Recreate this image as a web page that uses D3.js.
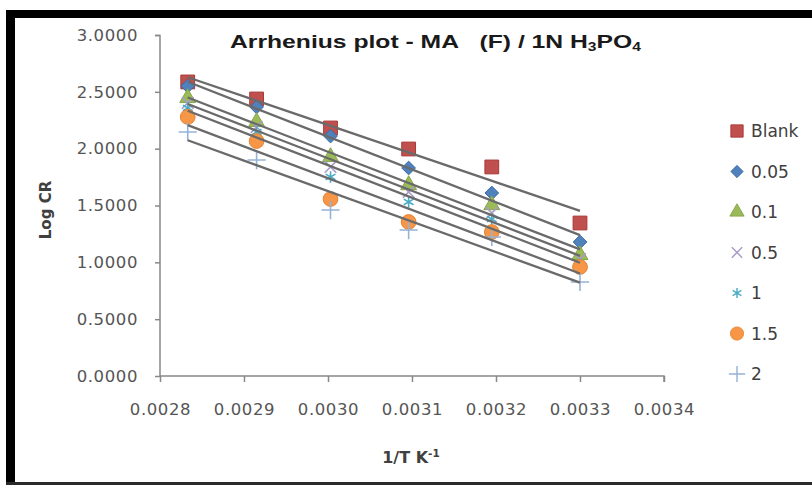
<!DOCTYPE html>
<html><head><meta charset="utf-8">
<script src="https://cdn.jsdelivr.net/npm/d3@7"></script>
<style>html,body{margin:0;padding:0;background:#fff;}svg{display:block;}</style>
</head><body>
<svg id="c" width="812" height="485"></svg>
<script>
// Data
const invT = [0.002833, 0.002915, 0.003003, 0.003096, 0.003195, 0.003300];
const seriesNames = ["Blank", "0.05", "0.1", "0.5", "1", "1.5", "2"];
const blank = [2.587, 2.437, 2.182, 1.997, 1.839, 1.346];
const c005  = [2.551, 2.367, 2.111, 1.830, 1.610, 1.179];
const c01   = [2.446, 2.235, 1.927, 1.680, 1.504, 1.065];
const c05   = [2.402, 2.191, 1.839, 1.619, 1.434, 1.029];
const c1    = [2.358, 2.147, 1.751, 1.531, 1.381, 0.985];
const c15   = [2.279, 2.067, 1.557, 1.355, 1.267, 0.959];
const c2    = [2.147, 1.900, 1.460, 1.284, 1.223, 0.827];
const xTicks = [0.0028, 0.0029, 0.0030, 0.0031, 0.0032, 0.0033, 0.0034];
const yTicks = [0, 0.5, 1.0, 1.5, 2.0, 2.5, 3.0];

const allSeries = [blank, c005, c01, c05, c1, c15, c2];
const styles = [
  {sym: d3.symbolSquare, size: 190, fill: "#C0504D", stroke: "#A83A37"},
  {sym: d3.symbolDiamond2, size: 120, fill: "#4F81BD", stroke: "#3C6AA0"},
  {sym: d3.symbolTriangle, size: 110, fill: "#9BBB59", stroke: "#86A548"},
  {sym: d3.symbolTimes, size: 90, fill: "none", stroke: "#A99BC6", sw: 1.6},
  {sym: d3.symbolAsterisk, size: 90, fill: "none", stroke: "#4BACC6", sw: 1.6},
  {sym: d3.symbolCircle, size: 170, fill: "#F79646", stroke: "#E5832F"},
  {sym: d3.symbolPlus, size: 110, fill: "none", stroke: "#95B3D7", sw: 1.6}
];

const svg = d3.select("#c");

// frame
svg.append("rect").attr("x", 0).attr("y", 0).attr("width", 812).attr("height", 485).attr("fill", "#fff");
svg.append("rect").attr("x", 6).attr("y", 10).attr("width", 806).attr("height", 8).attr("fill", "#000");
svg.append("rect").attr("x", 6).attr("y", 10).attr("width", 9).attr("height", 475).attr("fill", "#000");
svg.append("rect").attr("x", 6).attr("y", 482).attr("width", 806).attr("height", 3).attr("fill", "#2a2a2a");

const x = d3.scaleLinear().domain([0.0028, 0.0034]).range([160, 664]);
const y = d3.scaleLinear().domain([0, 3]).range([376, 35]);

const axisColor = "#888888";
const labelFont = "'DejaVu Sans', sans-serif";

// Y axis
const yAxis = svg.append("g").attr("transform", "translate(160,0)")
  .call(d3.axisLeft(y).tickValues(yTicks).tickFormat(d3.format(".4f")).tickSize(5).tickPadding(17));
// X axis
const xAxis = svg.append("g").attr("transform", "translate(0,376)")
  .call(d3.axisBottom(x).tickValues(xTicks).tickFormat(d3.format(".4f")).tickSize(6).tickPadding(21));
[yAxis, xAxis].forEach(a => {
  a.select(".domain").attr("stroke", axisColor).attr("stroke-width", 1.5);
  a.selectAll(".tick line").attr("stroke", axisColor).attr("stroke-width", 1.5);
  a.selectAll(".tick text").attr("fill", "#555555").attr("font-family", labelFont)
    .attr("font-size", 16.5).attr("letter-spacing", 0.6);
});
yAxis.select(".domain").attr("d", "M-5,35.5H0V376");
xAxis.select(".domain").attr("d", "M160,0H664V6");

// markers
allSeries.forEach((vals, si) => {
  const st = styles[si];
  const g = svg.append("g");
  g.selectAll("path").data(vals).join("path")
    .attr("transform", (d, i) => `translate(${x(invT[i])},${y(d)})`)
    .attr("d", d3.symbol(st.sym, st.size))
    .attr("fill", st.fill).attr("stroke", st.stroke).attr("stroke-width", st.sw || 1);
});

// linear trendlines
allSeries.forEach(vals => {
  const n = vals.length;
  const mx = d3.mean(invT), my = d3.mean(vals);
  let sxy = 0, sxx = 0;
  for (let i = 0; i < n; i++) { sxy += (invT[i] - mx) * (vals[i] - my); sxx += (invT[i] - mx) ** 2; }
  const b = sxy / sxx, a = my - b * mx;
  const x0 = d3.min(invT), x1 = d3.max(invT);
  svg.append("line")
    .attr("x1", x(x0)).attr("y1", y(a + b * x0))
    .attr("x2", x(x1)).attr("y2", y(a + b * x1))
    .attr("stroke", "#6a6a6a").attr("stroke-width", 2.3);
});

// title
const title = svg.append("text").attr("transform", "translate(230,48) scale(1.3,1)")
  .attr("font-family", "'Liberation Sans', Arial, sans-serif").attr("font-weight", "bold")
  .attr("font-size", 19).attr("fill", "#1a1a1a");
title.append("tspan").text("Arrhenius plot - MA\u00A0\u00A0 (F) / 1N H");
title.append("tspan").text("3").attr("font-size", 12).attr("dy", 3);
title.append("tspan").text("PO").attr("dy", -3);
title.append("tspan").text("4").attr("font-size", 12).attr("dy", 3);

// axis titles
svg.append("text").attr("transform", "translate(51,210) rotate(-90)")
  .attr("text-anchor", "middle").attr("font-family", labelFont).attr("font-weight", "bold")
  .attr("font-size", 15).attr("fill", "#404040").text("Log CR");
const xt = svg.append("text").attr("x", 411).attr("y", 463).attr("text-anchor", "middle")
  .attr("font-family", labelFont).attr("font-weight", "bold").attr("font-size", 16).attr("fill", "#404040");
xt.append("tspan").text("1/T K");
xt.append("tspan").text("-1").attr("font-size", 10.5).attr("dy", -6);

// legend
const leg = svg.append("g");
seriesNames.forEach((name, i) => {
  const st = styles[i];
  const ly = 131 + i * 40.5;
  leg.append("path").attr("transform", `translate(737,${ly})`)
    .attr("d", d3.symbol(st.sym, st.size * 0.8))
    .attr("fill", st.fill).attr("stroke", st.stroke).attr("stroke-width", (st.sw || 1) * 0.9);
  leg.append("text").attr("x", 751).attr("y", ly + 6)
    .attr("font-family", labelFont).attr("font-size", 17).attr("fill", "#404040").text(name);
});
</script>
</body></html>
